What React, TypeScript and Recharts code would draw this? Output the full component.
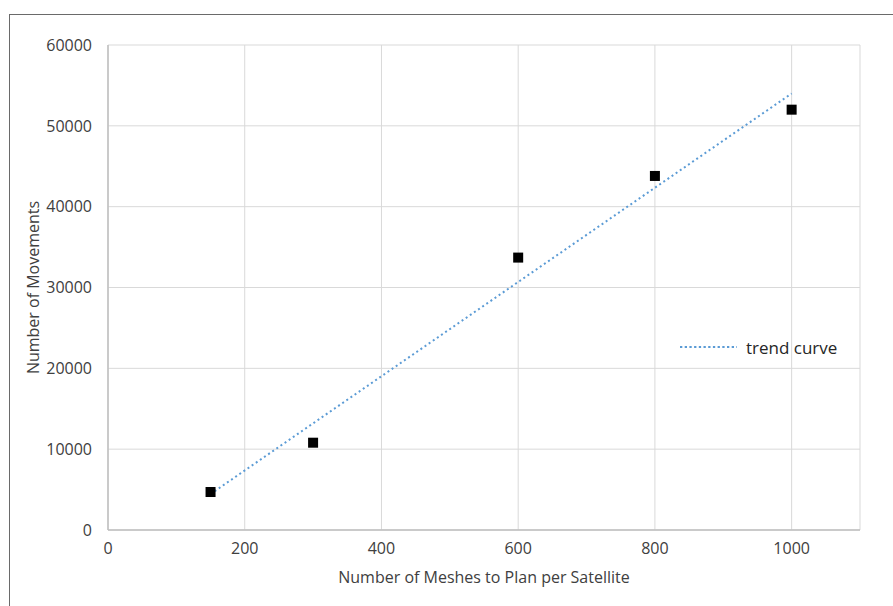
import React from "react";
import {
  ScatterChart,
  Scatter,
  XAxis,
  YAxis,
  CartesianGrid,
} from "recharts";

const meshes = [150, 300, 600, 800, 1000];
const movements = [4700, 10800, 33700, 43800, 52000];
const trendX = [150, 1000];
const trendY = [4450, 54000];
const xTicks = [0, 200, 400, 600, 800, 1000];
const yTicks = [0, 10000, 20000, 30000, 40000, 50000, 60000];
const seriesName = "trend curve";

const pointData = meshes.map((x, i) => ({ x, y: movements[i] }));
const trendData = trendX.map((x, i) => ({ x, y: trendY[i] }));

const FONT = "'Open Sans', 'Noto Sans', sans-serif";
const TREND_COLOR = "#5b9bd5";
const FS = 16;

const SquareShape = (props: any) => {
  const { cx, cy } = props;
  if (cx == null || cy == null) return null;
  return <rect x={cx - 5} y={cy - 5} width={10} height={10} fill="#000" />;
};

const NoShape = () => null;

export default function App() {
  return (
    <div style={{ position: "absolute", left: 0, top: 0, width: 893, height: 606, background: "#fff", overflow: "hidden" }}>
      <div
        style={{
          position: "absolute",
          left: 9,
          top: 14,
          width: 900,
          height: 600,
          borderTop: "1px solid #6a6a6a",
          borderLeft: "1px solid #6a6a6a",
        }}
      />
      <div style={{ position: "absolute", left: 0, top: 0 }}>
        <ScatterChart
          width={893}
          height={606}
          margin={{ top: 45, right: 33, bottom: 46, left: 10 }}
          style={{ fontFamily: FONT }}
        >
          <CartesianGrid stroke="#d9d9d9" strokeWidth={1} />
          <XAxis
            type="number"
            dataKey="x"
            domain={[0, 1100]}
            ticks={xTicks}
            interval={0}
            allowDataOverflow
            tickLine={false}
            tickSize={0}
            tickMargin={13}
            axisLine={{ stroke: "#bfbfbf", strokeWidth: 1.5 }}
            tick={{ fill: "#404040", fontSize: FS, fontFamily: FONT }}
            label={{
              value: "Number of Meshes to Plan per Satellite",
              position: "insideBottom",
              offset: -23,
              fill: "#404040",
              fontSize: FS,
              fontFamily: FONT,
            }}
          />
          <YAxis
            type="number"
            dataKey="y"
            domain={[0, 60000]}
            ticks={yTicks}
            interval={0}
            width={98}
            tickLine={false}
            tickSize={0}
            tickMargin={16}
            axisLine={{ stroke: "#bfbfbf", strokeWidth: 1.5 }}
            tick={{ fill: "#404040", fontSize: FS, fontFamily: FONT }}
            label={{
              value: "Number of Movements",
              angle: -90,
              position: "insideLeft",
              offset: 23,
              style: { textAnchor: "middle" },
              fill: "#404040",
              fontSize: FS,
              fontFamily: FONT,
            }}
          />
          <Scatter
            name={seriesName}
            data={trendData}
            line={{ stroke: TREND_COLOR, strokeWidth: 2, strokeDasharray: "2 3" }}
            shape={NoShape}
            isAnimationActive={false}
          />
          <Scatter
            name="points"
            data={pointData}
            shape={SquareShape}
            isAnimationActive={false}
          />
        </ScatterChart>
      </div>
      <div
        style={{
          position: "absolute",
          left: 679,
          top: 335,
          height: 24,
          display: "flex",
          alignItems: "center",
          fontFamily: FONT,
          fontSize: 17,
          color: "#262626",
          whiteSpace: "nowrap",
        }}
      >
        <svg width={58} height={10} style={{ marginRight: 9 }}>
          <line x1={1} y1={5} x2={58} y2={5} stroke={TREND_COLOR} strokeWidth={2} strokeDasharray="2.3 2.4" />
        </svg>
        <span>{seriesName}</span>
      </div>
    </div>
  );
}
